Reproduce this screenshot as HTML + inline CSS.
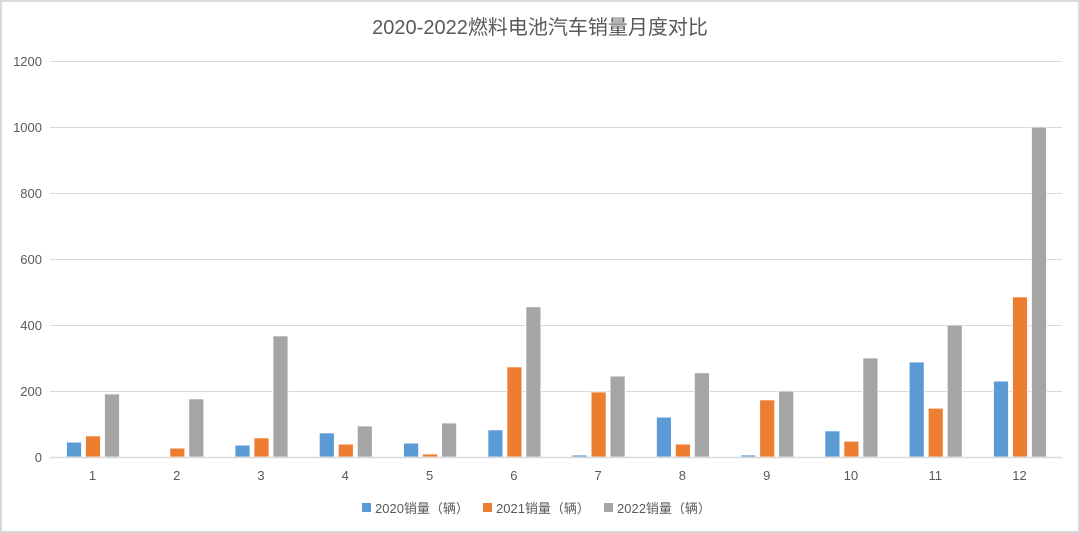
<!DOCTYPE html>
<html><head><meta charset="utf-8"><style>
html,body{margin:0;padding:0;background:#fff}
svg{display:block}
text{font-family:"Liberation Sans","Noto Sans CJK SC",sans-serif;fill:#595959}
</style></head><body>
<svg width="1080" height="533" viewBox="0 0 1080 533" xmlns="http://www.w3.org/2000/svg">
<rect x="1" y="1" width="1078" height="531" fill="#fff" stroke="#d9d9d9" stroke-width="2"/>
<text x="540" y="34" font-size="20" text-anchor="middle">2020-2022燃料电池汽车销量月度对比</text>
<g stroke="#d9d9d9" stroke-width="1">
<line x1="50" x2="1062" y1="61.5" y2="61.5"/><line x1="50" x2="1062" y1="127.5" y2="127.5"/>
<line x1="50" x2="1062" y1="193.5" y2="193.5"/><line x1="50" x2="1062" y1="259.5" y2="259.5"/>
<line x1="50" x2="1062" y1="325.5" y2="325.5"/><line x1="50" x2="1062" y1="391.5" y2="391.5"/>
</g>
<g font-size="13" text-anchor="end">
<text x="42" y="66">1200</text><text x="42" y="132">1000</text><text x="42" y="198">800</text>
<text x="42" y="264">600</text><text x="42" y="330">400</text><text x="42" y="396">200</text><text x="42" y="462">0</text>
</g>
<g stroke="#fff" stroke-width="0.8">
<g fill="#5b9bd5">
<rect x="66.5" y="442.1" width="15" height="14.9"/>
<rect x="235" y="445.1" width="15" height="11.9"/>
<rect x="319.3" y="432.9" width="15" height="24.1"/>
<rect x="403.6" y="443.1" width="15" height="13.9"/>
<rect x="487.9" y="429.9" width="15" height="27.1"/>
<rect x="572.1" y="455" width="15" height="2"/>
<rect x="656.4" y="417.1" width="15" height="39.9"/>
<rect x="740.7" y="455" width="15" height="2"/>
<rect x="824.9" y="430.9" width="15" height="26.1"/>
<rect x="909.2" y="362" width="15" height="95"/>
<rect x="993.5" y="381.1" width="15" height="75.9"/>
</g>
<g fill="#ed7d31">
<rect x="85.5" y="435.9" width="15" height="21.1"/>
<rect x="169.8" y="448.1" width="15" height="8.9"/>
<rect x="254" y="437.9" width="15" height="19.1"/>
<rect x="338.3" y="444.1" width="15" height="12.9"/>
<rect x="422.6" y="454" width="15" height="3"/>
<rect x="506.9" y="366.9" width="15" height="90.1"/>
<rect x="591.1" y="392" width="15" height="65"/>
<rect x="675.4" y="444.1" width="15" height="12.9"/>
<rect x="759.7" y="399.9" width="15" height="57.1"/>
<rect x="843.9" y="441.2" width="15" height="15.8"/>
<rect x="928.2" y="408.2" width="15" height="48.8"/>
<rect x="1012.5" y="296.9" width="15" height="160.1"/>
</g>
<g fill="#a5a5a5">
<rect x="104.5" y="394" width="15" height="63"/>
<rect x="188.8" y="398.9" width="15" height="58.1"/>
<rect x="273" y="335.9" width="15" height="121.1"/>
<rect x="357.3" y="426" width="15" height="31"/>
<rect x="441.6" y="423" width="15" height="34"/>
<rect x="525.9" y="306.8" width="15" height="150.2"/>
<rect x="610.1" y="376.1" width="15" height="80.9"/>
<rect x="694.4" y="372.8" width="15" height="84.2"/>
<rect x="778.7" y="391" width="15" height="66"/>
<rect x="862.9" y="358" width="15" height="99"/>
<rect x="947.2" y="325" width="15" height="132"/>
<rect x="1031.5" y="127" width="15" height="330"/>
</g>
</g>
<line x1="50" x2="1062" y1="457.5" y2="457.5" stroke="#d9d9d9" stroke-width="1.5"/>
<g font-size="13" text-anchor="middle">
<text x="92.5" y="480">1</text><text x="176.8" y="480">2</text><text x="261" y="480">3</text>
<text x="345.3" y="480">4</text><text x="429.6" y="480">5</text><text x="513.9" y="480">6</text>
<text x="598.1" y="480">7</text><text x="682.4" y="480">8</text><text x="766.7" y="480">9</text>
<text x="850.9" y="480">10</text><text x="935.2" y="480">11</text><text x="1019.5" y="480">12</text>
</g>
<g font-size="13">
<rect x="362" y="503" width="9" height="9" fill="#5b9bd5"/><text x="375" y="513">2020销量（辆）</text>
<rect x="483" y="503" width="9" height="9" fill="#ed7d31"/><text x="496" y="513">2021销量（辆）</text>
<rect x="604" y="503" width="9" height="9" fill="#a5a5a5"/><text x="617" y="513">2022销量（辆）</text>
</g>
</svg>
</body></html>
